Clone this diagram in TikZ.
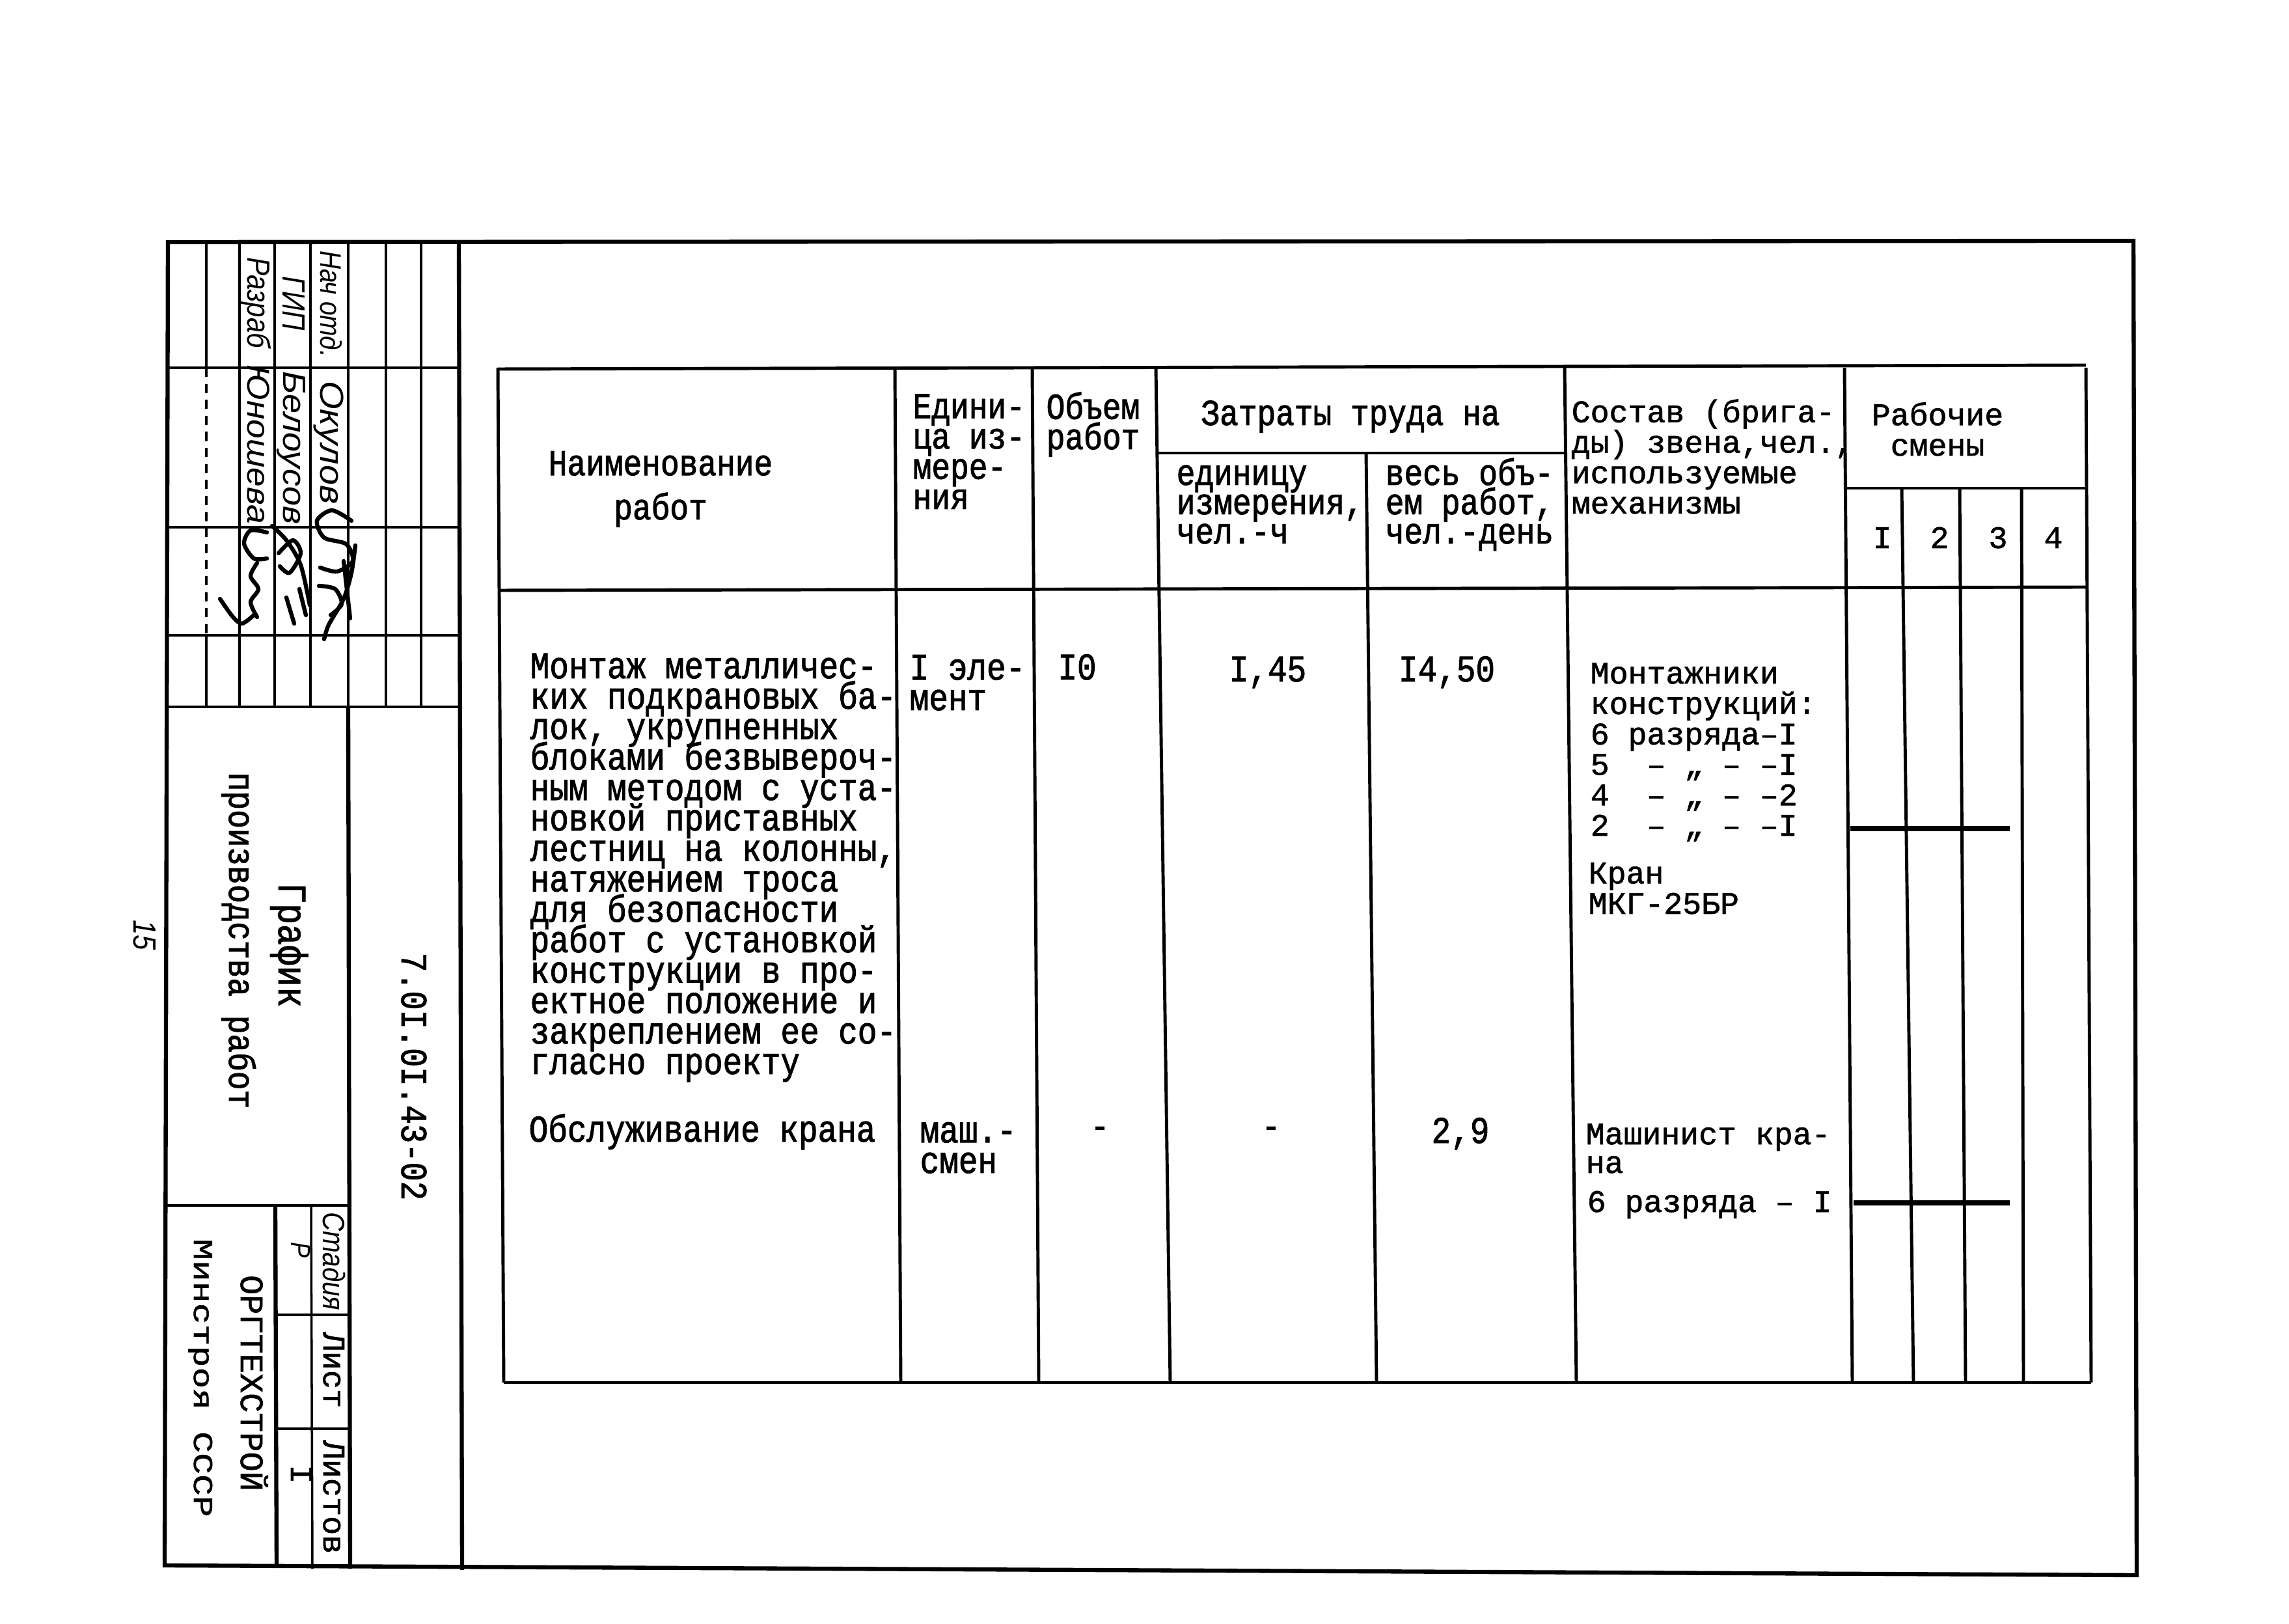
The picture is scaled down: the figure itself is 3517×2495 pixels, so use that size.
\documentclass[tikz,border=0pt]{standalone}
\usepackage{fontspec}
\usetikzlibrary{positioning}
\newfontfamily\typefont[FakeStretch=0.85,FakeBold=1.6]{Liberation Mono}
\newfontfamily\widefont[FakeBold=1.3]{Liberation Mono}
\newfontfamily\spreadfont[FakeStretch=1.3,FakeBold=1.3]{Liberation Mono}
\newfontfamily\handfont[FakeStretch=0.85]{Liberation Sans}
\newfontfamily\namefont[FakeStretch=1.1]{Liberation Sans}
\definecolor{Ink}{RGB}{0, 0, 0}
\newcommand{\FrameThick}{1.8pt}
\newcommand{\GridThick}{1.4pt}
\newcommand{\TitleThick}{1pt}
\newcommand{\BarThick}{2.4pt}
\newcommand{\SignThick}{1.8pt}
\newcommand{\BodyFont}{\typefont\fontsize{16.5pt}{13.3pt}\selectfont\lineskiplimit=-\maxdimen}
\newcommand{\HeadFont}{\typefont\fontsize{16pt}{13.2pt}\selectfont\lineskiplimit=-\maxdimen}
\newcommand{\WideFont}{\widefont\fontsize{13.7pt}{13.3pt}\selectfont\lineskiplimit=-\maxdimen}
\newcommand{\HandFont}[1]{\handfont\itshape\fontsize{#1}{#1}\selectfont}
\newcommand{\NameFont}[1]{\namefont\itshape\fontsize{#1}{#1}\selectfont}

\begin{document}
\begin{tikzpicture}[x=0.01cm,y=-0.01cm,Ink]
  \tikzstyle{every node}=[inner sep=0pt,Ink]
  % multi-line cells sit on the baseline of their last line
  \tikzstyle{celltext}=[anchor=base west,align=left]
  \tikzstyle{turned}=[anchor=base,rotate=-90]
  \tikzstyle{frameline}=[line width=\FrameThick]
  \tikzstyle{tableline}=[line width=\GridThick]
  \tikzstyle{titleline}=[line width=\TitleThick]
  \tikzstyle{shiftbar}=[line width=\BarThick]
  \tikzstyle{signline}=[line width=\SignThick,line cap=round,line join=round]
  \useasboundingbox (0,0) rectangle (3517,2495);

  % Frame
  \draw[frameline] (258,372) -- (3278,370) -- (3283,2420) -- (253,2405) -- cycle;

  % Title block lines
  \draw[frameline] (705,372) -- (710,2412);
  \draw[frameline] (535,1086) -- (538,2410);
  \draw[frameline] (423,1852) -- (425,2408);
  \foreach \y in {565,810,976,1086}
    \draw[titleline] (256,\y) -- (705,\y);
  \foreach \x in {368,422,477,535,593,647}
    \draw[titleline] (\x,372) -- (\x,1086);
  \draw[titleline] (317,372) -- (317,565);
  \draw[titleline,dash pattern=on 4pt off 3pt] (317,565) -- (317,976);
  \draw[titleline] (317,976) -- (317,1086);
  \draw[titleline] (254,1852) -- (535,1852);
  \draw[titleline] (478,1852) -- (480,2410);
  \foreach \y in {2020,2195}
    \draw[titleline] (423,\y) -- (535,\y);

  % Title block texts
  \node[turned,font=\HandFont{14pt}] (pagenum) at (205,1437) {15};
  \node[turned,font=\HandFont{13pt}] (chief) at (492,467) {Нач отд.};
  \node[turned,font=\HandFont{14pt}] (gip) at (434,466) {ГИП};
  \node[turned,font=\HandFont{14pt}] (author) at (380,465) {Разраб};
  \node[turned,font=\NameFont{14.5pt}] (chiefname) at (492,680) {Окулов};
  \node[turned,font=\NameFont{14pt}] (gipname) at (435,688) {Белоусов};
  \node[turned,font=\NameFont{13.8pt}] (authorname) at (380,683) {Юношева};
  \node[turned,font=\typefont\fontsize{17.8pt}{17.8pt}\selectfont] (titleA) at (428,1452) {График};
  \node[turned,font=\typefont\fontsize{16pt}{16pt}\selectfont] (titleB) at (352,1445) {производства работ};
  \node[turned,font=\typefont\fontsize{16.3pt}{16.3pt}\selectfont] (code) at (617,1654) {7.0I.0I.43-02};
  \node[turned,font=\widefont\fontsize{14.3pt}{14.3pt}\selectfont] (org) at (370,2125) {ОРГТЕХСТРОЙ};
  \node[turned,font=\spreadfont\fontsize{12pt}{12pt}\selectfont] (ministry) at (298,2117) {Минстроя СССР};
  \node[turned,font=\HandFont{13.5pt}] (stage) at (496,1938) {Стадия};
  \node[turned,font=\widefont\fontsize{13.8pt}{13.8pt}\selectfont] (sheet) at (497,2105) {Лист};
  \node[turned,font=\widefont\fontsize{13.8pt}{13.8pt}\selectfont] (sheets) at (497,2300) {Листов};
  \node[turned,font=\HandFont{12pt}] (stageval) at (447,1920) {Р};
  \node[turned,font=\widefont\fontsize{13.8pt}{13.8pt}\selectfont] (sheetsval) at (447,2265) {I};

  % Signatures
  \draw[signline] plot[smooth] coordinates {(540,800) (510,784) (487,800) (498,826) (532,836) (542,862) (518,878) (492,872)};
  \draw[signline] plot[smooth] coordinates {(546,838) (540,880) (528,920) (505,960) (498,982)};
  \draw[signline] plot[smooth] coordinates {(490,900) (515,905) (525,928) (508,945)};
  \draw[signline] (528,862) -- (538,950);
  \draw[signline] plot[smooth] coordinates {(418,808) (440,830) (462,868) (476,930)};
  \draw[signline] plot[smooth] coordinates {(428,850) (450,830) (462,850) (445,880) (430,870)};
  \draw[signline] (440,918) -- (452,958);
  \draw[signline] (460,905) -- (470,945);
  \draw[signline] plot[smooth] coordinates {(410,818) (385,815) (375,835) (390,858) (410,858)};
  \draw[signline] plot[smooth] coordinates {(395,865) (385,885) (397,905) (385,925) (395,948)};
  \draw[signline] plot[smooth] coordinates {(338,920) (358,948) (372,958) (390,945)};

  % Table lines
  \draw[tableline] (765,567) -- (3205,561);
  \draw[tableline] (765,907) -- (3207,902);
  \draw[tableline] (774,2124) -- (3213,2124);
  \foreach \xt/\xb in {765/774,1375/1384,1586/1596,1776/1798,2404/2422,2834/2846,3205/3213}
    \draw[tableline] (\xt,565) -- (\xb,2124);
  \draw[tableline] (1778,696) -- (2406,696);
  \draw[tableline] (2099,696) -- (2115,2124);
  \draw[tableline] (2835,750) -- (3206,750);
  \foreach \xt/\xb in {2922/2940,3011/3020,3106/3109}
    \draw[tableline] (\xt,750) -- (\xb,2124);

  % Header
  \node[anchor=base,align=center,font={\HeadFont\baselineskip=19.3pt}] (headname) at (1015,798) {Наименование\\работ};
  \node[celltext,font=\HeadFont] (headunit) at (1402,782) {Едини-\\ца из-\\мере-\\ния};
  \node[celltext,font=\HeadFont] (headvol) at (1607,690) {Объем\\работ};
  \node[anchor=base,font=\HeadFont] (headcost) at (2075,653) {Затраты труда на};
  \node[celltext,font={\HeadFont\baselineskip=12.8pt}] (headcostunit) at (1807,835) {единицу\\измерения,\\чел.-ч};
  \node[celltext,font={\HeadFont\baselineskip=12.8pt}] (headcostall) at (2128,835) {весь объ-\\ем работ,\\чел.-день};
  \node[celltext,font=\WideFont] (headcrew) at (2414,789) {Состав (брига-\\ды) звена,чел.,\\используемые\\механизмы};
  \node[anchor=base,align=center,font=\WideFont] (headshift) at (2977,700) {Рабочие\\смены};
  \node[anchor=base,font=\WideFont] (shiftA) at (2892,842) {I};
  \node[anchor=base,font=\WideFont] (shiftB) at (2980,842) {2};
  \node[anchor=base,font=\WideFont] (shiftC) at (3070,842) {3};
  \node[anchor=base,font=\WideFont] (shiftD) at (3155,842) {4};

  % Row 1
  \node[celltext,font=\BodyFont] (workA) at (814,1650) {Монтаж металличес-\\ких подкрановых ба-\\лок, укрупненных\\блоками безвывероч-\\ным методом с уста-\\новкой приставных\\лестниц на колонны,\\натяжением троса\\для безопасности\\работ с установкой\\конструкции в про-\\ектное положение и\\закреплением ее со-\\гласно проекту};
  \node[celltext,font=\BodyFont] (unitA) at (1397,1091) {I эле-\\мент};
  \node[anchor=base,font=\BodyFont] (volA) at (1655,1044) {I0};
  \node[anchor=base,font=\BodyFont] (costunitA) at (1948,1047) {I,45};
  \node[anchor=base,font=\BodyFont] (costallA) at (2223,1047) {I4,50};
  \node[celltext,font=\WideFont] (crewA) at (2443,1284) {Монтажники\\конструкций:\\6 разряда–I\\5\ \ –\ „\ –\ –I\\4\ \ –\ „\ –\ –2\\2\ \ –\ „\ –\ –I};
  \node[celltext,font=\WideFont] (craneA) at (2440,1404) {Кран\\МКГ-25БР};

  % Row 2
  \node[anchor=base west,font=\BodyFont] (workB) at (812,1754) {Обслуживание крана};
  \node[celltext,font=\BodyFont] (unitB) at (1413,1802) {маш.-\\смен};
  \node[font=\BodyFont] (volB) at (1690,1740) {-};
  \node[font=\BodyFont] (costunitB) at (1953,1740) {-};
  \node[anchor=base,font=\BodyFont] (costallB) at (2244,1756) {2,9};
  \node[celltext,font={\WideFont\baselineskip=12.5pt}] (crewB) at (2436,1802) {Машинист кра-\\на};
  \node[anchor=base west,font=\WideFont] (crewC) at (2438,1862) {6 разряда – I};

  % Shifts
  \draw[shiftbar] (2843,1273) -- (3088,1273);
  \draw[shiftbar] (2848,1848) -- (3088,1848);
\end{tikzpicture}
\end{document}
